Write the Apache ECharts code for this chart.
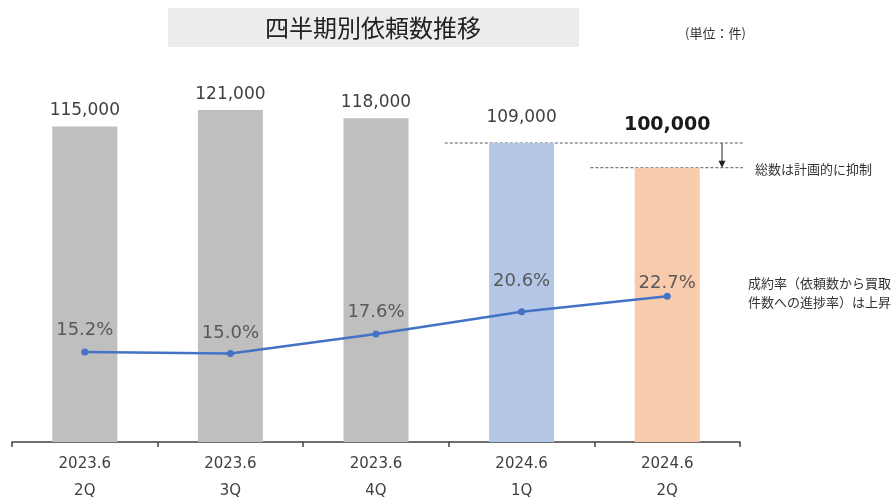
<!DOCTYPE html>
<html><head><meta charset="utf-8">
<script src="https://cdn.jsdelivr.net/npm/echarts@6/dist/echarts.min.js"></script>
<style>html,body{margin:0;padding:0;background:#fff;overflow:hidden}#c{width:894px;height:497px}</style>
</head><body><div id="c"></div>
<script>
const periods = ['2023.6', '2023.6', '2023.6', '2024.6', '2024.6'];
const quarters = ['2Q', '3Q', '4Q', '1Q', '2Q'];
const requests = [115000, 121000, 118000, 109000, 100000];
const rates = [15.2, 15.0, 17.6, 20.6, 22.7];

const barColors = ['#BFBFBF', '#BFBFBF', '#BFBFBF', '#B4C7E7', '#F8CBAD'];
const barLabelDist = [7, 7, 7, 17, 33];
const rateLabelDist = [9, 8, 9, 18, 0];
const FONT = '"DejaVu Sans", Verdana, sans-serif';
const CJK = '"Noto Sans CJK JP", sans-serif';

const chart = echarts.init(document.getElementById('c'), null, {renderer: 'canvas', width: 894, height: 497});
const option = {
  animation: false,
  grid: {left: 12, right: 154, top: 58, bottom: 55, containLabel: false, outerBoundsMode: 'none'},
  xAxis: {
    type: 'category',
    data: periods.map((p, i) => p + '\n' + quarters[i]),
    axisLine: {lineStyle: {color: '#404040', width: 1.5}},
    axisTick: {show: true, length: 5, lineStyle: {color: '#404040', width: 1.5}},
    axisLabel: {color: '#404040', fontFamily: FONT, fontSize: 15, lineHeight: 27, margin: 9}
  },
  yAxis: [
    {type: 'value', min: 0, max: 140000, show: false, splitLine: {show: false}},
    {type: 'value', min: 3.1, max: 54.7, show: false, splitLine: {show: false}}
  ],
  series: [
    {
      type: 'bar', barWidth: 65,
      data: requests.map((v, i) => ({
        value: v,
        itemStyle: {color: barColors[i]},
        label: i === 4
          ? {show: true, position: 'top', distance: barLabelDist[i], fontFamily: FONT, fontSize: 19, fontWeight: 'bold', color: '#1a1a1a'}
          : {show: true, position: 'top', distance: barLabelDist[i], fontFamily: FONT, fontSize: 17, color: '#404040'}
      })),
      label: {show: true, formatter: p => p.value.toLocaleString('en-US')}
    },
    {
      type: 'line', yAxisIndex: 1,
      data: rates.map((v, i) => ({value: v, label: {distance: rateLabelDist[i]}})),
      symbol: 'circle', symbolSize: 7,
      lineStyle: {color: '#4472C4', width: 2.5},
      itemStyle: {color: '#4472C4'},
      label: {show: true, position: 'top', fontFamily: FONT, fontSize: 18, color: '#595959',
        formatter: p => p.value.toFixed(1) + '%'}
    }
  ]
};
chart.setOption(option);

const yHi = chart.convertToPixel({yAxisIndex: 0}, requests[3]);
const yLo = chart.convertToPixel({yAxisIndex: 0}, requests[4]);
const c3 = chart.convertToPixel({xAxisIndex: 0}, 3);
const c4 = chart.convertToPixel({xAxisIndex: 0}, 4);
const step = c4 - c3;
const xEnd = c4 + step / 2 + 3;
const arrowX = xEnd - 21;

chart.setOption({
  graphic: [
    {type: 'rect', shape: {x: 168, y: 8, width: 411, height: 39}, style: {fill: '#EDEBEB'}, z: 0},
    {type: 'text', x: 373, y: 28, style: {text: '四半期別依頼数推移', font: '24px ' + CJK, fill: '#222', textAlign: 'center', textVerticalAlign: 'middle'}},
    {type: 'text', x: 685, y: 33, style: {text: '(単位：件)', font: '13px ' + CJK, fill: '#333', textAlign: 'left', textVerticalAlign: 'middle'}},
    {type: 'line', shape: {x1: c3 - step / 2 - 4, y1: yHi, x2: xEnd, y2: yHi}, style: {stroke: '#595959', lineWidth: 1, lineDash: [3, 2]}},
    {type: 'line', shape: {x1: c4 - step / 2 - 4, y1: yLo, x2: xEnd, y2: yLo}, style: {stroke: '#595959', lineWidth: 1, lineDash: [3, 2]}},
    {type: 'line', shape: {x1: arrowX, y1: yHi, x2: arrowX, y2: yLo - 6}, style: {stroke: '#222', lineWidth: 1}},
    {type: 'polygon', shape: {points: [[arrowX - 3.5, yLo - 7], [arrowX + 3.5, yLo - 7], [arrowX, yLo]]}, style: {fill: '#222'}},
    {type: 'text', x: 755, y: yLo + 1, style: {text: '総数は計画的に抑制', font: '13px ' + CJK, fill: '#333', textAlign: 'left', textVerticalAlign: 'middle'}},
    {type: 'text', x: 748, y: 293, style: {text: '成約率（依頼数から買取\n件数への進捗率）は上昇', font: '13px ' + CJK, lineHeight: 19, fill: '#333', textAlign: 'left', textVerticalAlign: 'middle'}}
  ]
});
</script></body></html>
